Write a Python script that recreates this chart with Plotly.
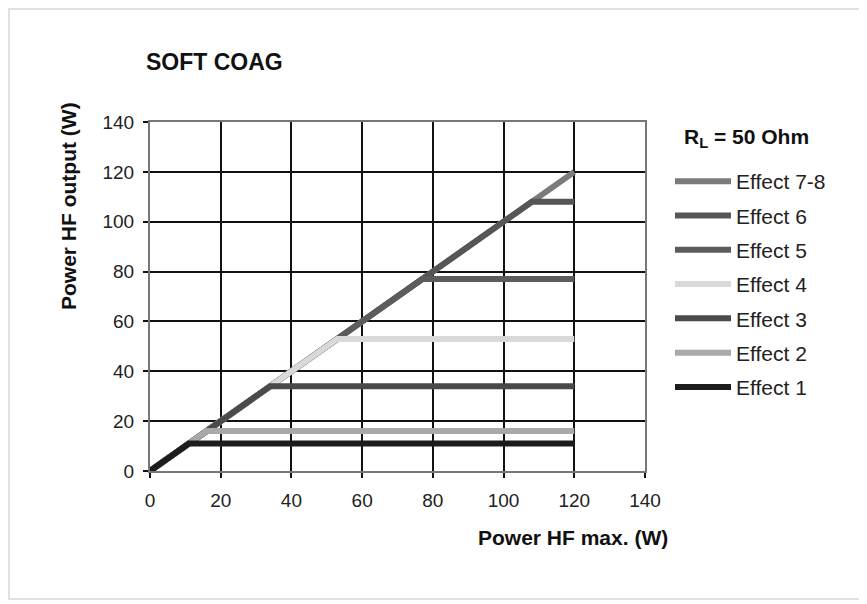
import plotly.graph_objects as go

W, H = 867, 604
OFF = 8  # page body margin in the screenshot
# plot area in screenshot pixels
PL, PR, PT, PB = 150, 645, 122, 471
ML, MR, MT, MB = PL - OFF, W - (PR - OFF), PT - OFF, H - (PB - OFF)
PW, PH = W - ML - MR, H - MT - MB


def px(x):
    return (x - PL) / PW


def py(y):
    return (PB - y) / PH


names = ["Effect 7-8", "Effect 6", "Effect 5", "Effect 4", "Effect 3", "Effect 2", "Effect 1"]
levels = [120, 108, 77, 53, 34, 16, 11]          # output plateau (W)
x_end = 120                                       # max setting (W)
colors = ["#7b7b7b", "#565656", "#5c5c5c", "#d9d9d9", "#4a4a4a", "#a9a9a9", "#1c1c1c"]

ticks = [0, 20, 40, 60, 80, 100, 120, 140]

fig = go.Figure()
for i, (n, lv, c) in enumerate(zip(names, levels, colors)):
    fig.add_trace(go.Scatter(
        x=[0, lv, x_end], y=[0, lv, lv], mode="lines", name=n,
        line=dict(color=c, width=6), legendgroup=f"g{i}", showlegend=True,
    ))

font = "Liberation Sans, Arial, sans-serif"
axis_common = dict(
    range=[0, 140], tickvals=ticks, showgrid=True, gridcolor="#111", gridwidth=2,
    showline=True, linecolor="#777", linewidth=2, mirror=True,
    ticks="outside", ticklen=5, tickcolor="#111", tickwidth=2, zeroline=False,
    fixedrange=True, tickfont=dict(size=19, color="#222"),
)
fig.update_layout(
    width=W, height=H, autosize=False,
    margin=dict(l=ML, r=MR, t=MT, b=MB, autoexpand=False),
    paper_bgcolor="white", plot_bgcolor="white",
    font=dict(family=font, size=19, color="#222"),
    showlegend=True,
    legend=dict(
        xref="container", yref="container",
        x=(670 - OFF) / W, y=1 - (161 - OFF) / H, xanchor="left", yanchor="top",
        font=dict(size=21, color="#222"),
        tracegroupgap=4, traceorder="grouped", itemwidth=56,
        bgcolor="rgba(0,0,0,0)", maxheight=500,
    ),
    xaxis=dict(**axis_common, ticklabelstandoff=6),
    yaxis=dict(**axis_common, ticklabelstandoff=5),
    annotations=[
        dict(text="<b>SOFT COAG</b>", xref="paper", yref="paper",
             x=px(144), y=py(62), xanchor="left", yanchor="middle", showarrow=False,
             font=dict(size=23, color="#111")),
        dict(text="<b>Power HF output (W)</b>", xref="paper", yref="paper",
             x=px(68), y=py(206), xanchor="center", yanchor="middle", textangle=-90,
             showarrow=False, font=dict(size=21, color="#111")),
        dict(text="<b>Power HF max. (W)</b>", xref="paper", yref="paper",
             x=px(573), y=py(537), xanchor="center", yanchor="middle", showarrow=False,
             font=dict(size=21, color="#111")),
        dict(text="<b>R<sub>L</sub> = 50 Ohm</b>", xref="paper", yref="paper",
             x=px(682), y=py(138), xanchor="left", yanchor="middle", showarrow=False,
             font=dict(size=21, color="#111")),
    ],
    shapes=[
        dict(type="rect", xref="paper", yref="paper",
             x0=px(OFF + 1), x1=px(861), y0=py(OFF + 1), y1=py(599),
             line=dict(color="#d8d8d8", width=1.5), layer="below"),
    ],
)

fig.write_html("out.html")
